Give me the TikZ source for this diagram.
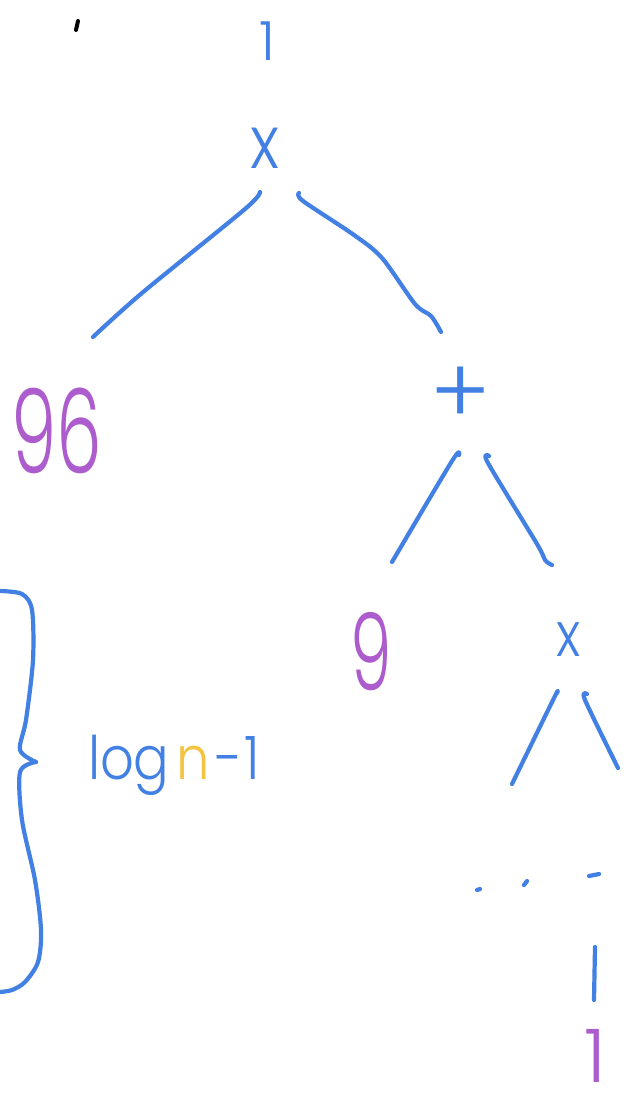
\documentclass[tikz,border=0pt]{standalone}
\usepackage{fontspec}
\usepackage{graphicx}
\newfontfamily\hand{Poppins Light}
\definecolor{inkblue}{RGB}{66,128,228}
\definecolor{inkpurple}{RGB}{172,92,204}
\definecolor{inkyellow}{RGB}{244,196,64}
\tikzset{
  edge/.style={draw=inkblue, line width=4.2pt, line cap=round, line join=round},
  lbl/.style={inner sep=0pt, outer sep=0pt, font=\hand},
}
\begin{document}
\begin{tikzpicture}[x=1pt,y=-1pt]
\useasboundingbox (0,0) rectangle (634,1110);
\fill[white] (0,0) rectangle (634,1110);
% stray tick
\draw[line width=4pt, line cap=round, black] (78,21) -- (76,30);
% labels
\node[lbl, text=inkblue] (n1) at (267,41) {\fontsize{54}{54}\selectfont 1};
\node[lbl, text=inkblue] (tx) at (265,148) {\scalebox{0.85}[1]{\fontsize{74}{74}\selectfont x}};
\node[lbl, text=inkpurple] (n96) at (57,431) {\scalebox{0.62}[1]{\fontsize{117}{117}\selectfont 96}};
\node[lbl, text=inkblue] (plus) at (461,396) {\fontsize{92}{92}\selectfont +};
\node[lbl, text=inkpurple] (n9) at (371,652) {\scalebox{0.62}[1]{\fontsize{107}{107}\selectfont 9}};
\node[lbl, text=inkblue] (bx) at (569,640) {\scalebox{0.85}[1]{\fontsize{62}{62}\selectfont x}};
\node[lbl, text=inkblue, anchor=base west] (logn) at (88,779) {\scalebox{0.88}[1]{\fontsize{60}{60}\selectfont log\hspace{8pt}{\color{inkyellow}n}\hspace{6pt}-\hspace{2pt}1}};
\node[lbl, text=inkpurple] (b1) at (595,1056) {\fontsize{74}{74}\selectfont 1};
% edges
\draw[edge] plot[smooth] coordinates {(260,192) (245,209) (142,293) (93,337)};
\draw[edge] plot[smooth] coordinates {(299,193) (303,201) (354,235) (382,258) (415,304) (431,316) (441,332)};
\draw[edge] plot[smooth] coordinates {(459,455) (452,461) (392,562)};
\draw[edge] plot[smooth] coordinates {(489,456) (488,463) (537,544) (545,560) (552,565)};
\draw[edge] plot[smooth] coordinates {(557,693) (554,698) (512,784)};
\draw[edge] plot[smooth] coordinates {(587,694) (585,700) (618,768)};
% dots
\draw[edge] (477,890) -- (480,889);
\draw[edge] (524,885) -- (527,881);
\draw[edge] (589,876) -- (599,874);
% lower vertical
\draw[edge] (595,947) -- (594,1000);
% brace
\draw[edge] plot[smooth] coordinates {(0,591) (22,594) (32,610) (33,660) (26,720) (20,750) (36,762)};
\draw[edge] plot[smooth] coordinates {(36,762) (20,772) (22,820) (35,880) (41,930) (38,962) (25,982) (12,990) (0,992)};
\end{tikzpicture}
\end{document}
